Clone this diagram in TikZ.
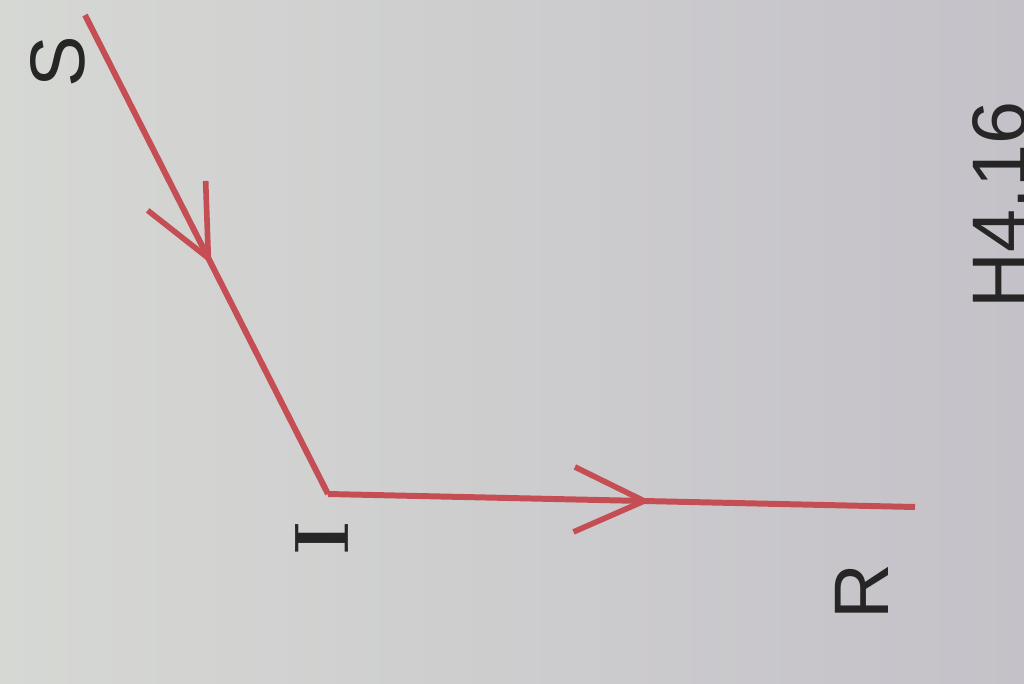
\documentclass[tikz,border=0pt]{standalone}
\usepackage{fontspec}
\setsansfont{Liberation Sans}
\usetikzlibrary{arrows.meta,decorations.markings}
\definecolor{ray}{RGB}{196,78,84}
\definecolor{paperL}{RGB}{214,216,212}
\definecolor{paperR}{RGB}{196,193,200}
\begin{document}
\begin{tikzpicture}[>=latex]
    \tikzstyle{every node}=[font=\fontsize{22}{26}\sffamily,text=black!85]
    \tikzset{
      raymark/.style={decoration={markings,
        mark=at position #1 with {\arrow{Straight Barb[length=7mm,width=6.5mm,line width=1.6pt]}}},
        postaction={decorate}}
    }

    % paper
    \shade[left color=paperL,right color=paperR] (0,0) rectangle (10.24,6.83);
    \useasboundingbox (0,0) rectangle (10.24,6.83);

    % ray points
    \coordinate (s) at (0.85,6.68);
    \coordinate (i) at (3.28,1.89);
    \coordinate (r) at (9.15,1.76);

    \draw[ray,line width=1.7pt,raymark=0.52] (s) -- (i);
    \draw[ray,line width=1.7pt,raymark=0.55] (i) -- (r);

    \node[rotate=90] (lS) at (0.58,6.21) {S};
    \node[rotate=90,font=\fontsize{22}{26}\rmfamily\bfseries] (lI) at (3.22,1.45) {I};
    \node[rotate=90] (lR) at (8.62,0.91) {R};
    \node[rotate=90] (lH) at (10.0,4.78) {H4.16};
\end{tikzpicture}
\end{document}
